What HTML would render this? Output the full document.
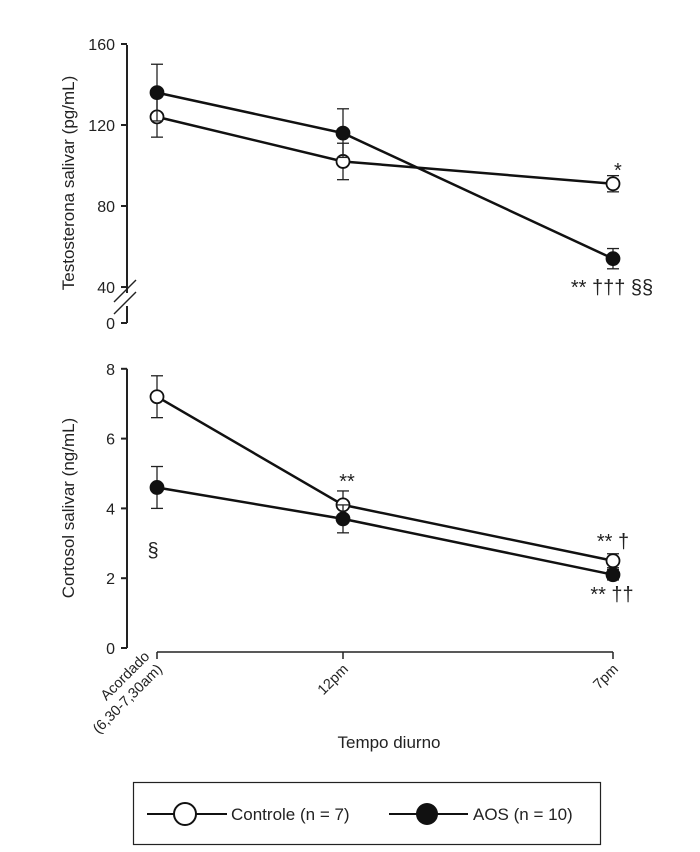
<!DOCTYPE html>
<html><head><meta charset="utf-8"><style>
html,body{margin:0;padding:0;background:#fff;}
svg{display:block;font-family:"Liberation Sans",Arial,sans-serif;}
</style></head><body>
<svg id="chart" width="700" height="852" viewBox="0 0 700 852"></svg>
<script>
const categories = ["Acordado|(6,30-7,30am)", "12pm", "7pm"];
const testoTicks = [40, 80, 120, 160];
const testoControle = [124, 102, 91];
const testoControleErr = [10, 9, 4];
const testoAOS = [136, 116, 54];
const testoAOSErr = [14, 12, 5];
const cortTicks = [0, 2, 4, 6, 8];
const cortControle = [7.2, 4.1, 2.5];
const cortControleErr = [0.6, 0.4, 0.2];
const cortAOS = [4.6, 3.7, 2.1];
const cortAOSErr = [0.6, 0.4, 0.15];

const NS = "http://www.w3.org/2000/svg";
const svg = document.getElementById("chart");
function el(tag, attrs, parent, text) {
  const e = document.createElementNS(NS, tag);
  for (const k in attrs) e.setAttribute(k, attrs[k]);
  if (text !== undefined) e.textContent = text;
  (parent || svg).appendChild(e);
  return e;
}
const xPos = [157, 343, 613];
const x = i => xPos[i];
const yT = v => 125 - (v - 120) * (80 / 39.5);
const yC = v => 648 - v * 34.9;

// top axis
const topAxis = el("g", {}, svg);


el("line", {x1:127,y1:45,x2:127,y2:293,stroke:"#222","stroke-width":2}, topAxis);
el("line", {x1:127,y1:306,x2:127,y2:323,stroke:"#222","stroke-width":2}, topAxis);
el("line", {x1:114,y1:302,x2:136,y2:280,stroke:"#222","stroke-width":1.4}, topAxis);
el("line", {x1:114,y1:314,x2:136,y2:292,stroke:"#222","stroke-width":1.4}, topAxis);
testoTicks.forEach(t => {
  el("line", {x1:121,y1:yT(t),x2:127,y2:yT(t),stroke:"#222","stroke-width":2}, topAxis);
  el("text", {x:115,y:yT(t)+6,"text-anchor":"end","font-size":16,fill:"#222"}, topAxis, t);
});
el("line", {x1:121,y1:323,x2:127,y2:323,stroke:"#222","stroke-width":2}, topAxis);
el("text", {x:115,y:329,"text-anchor":"end","font-size":16,fill:"#222"}, topAxis, "0");
const tl = el("text", {x:0,y:0,"text-anchor":"middle","font-size":17,fill:"#222",transform:"translate(74,183) rotate(-90)"}, svg, "Testosterona salivar (pg/mL)");



// bottom axis
const botAxis = el("g", {}, svg);


el("line", {x1:127,y1:yC(8),x2:127,y2:yC(0),stroke:"#222","stroke-width":2}, botAxis);
cortTicks.forEach(t => {
  el("line", {x1:121,y1:yC(t),x2:127,y2:yC(t),stroke:"#222","stroke-width":2}, botAxis);
  el("text", {x:115,y:yC(t)+6,"text-anchor":"end","font-size":16,fill:"#222"}, botAxis, t);
});
const cl = el("text", {x:0,y:0,"text-anchor":"middle","font-size":17,fill:"#222",transform:"translate(74,508) rotate(-90)"}, svg, "Cortosol salivar (ng/mL)");



// x axis
const xAxis = el("g", {}, svg);


el("line", {x1:x(0),y1:652,x2:x(2),y2:652,stroke:"#222","stroke-width":1.5}, xAxis);
categories.forEach((c, i) => {
  el("line", {x1:x(i),y1:652,x2:x(i),y2:659,stroke:"#222","stroke-width":1.5}, xAxis);
  const lines = c.split("|");
  const g = el("g", {transform:`translate(${x(i)+6},${670}) rotate(-45)`}, xAxis);
  lines.forEach((ln, j) => {
    el("text", {x:0,y:(j-(lines.length-1))*18,"text-anchor":"end","font-size":14.5,fill:"#222"}, g, ln);
  });
});
const xt = el("text", {x:389,y:748,"text-anchor":"middle","font-size":17,fill:"#222"}, svg, "Tempo diurno");



function series(vals, errs, ys, filled, name) {
  const g = el("g", {}, svg);
  
  
  el("polyline", {points: vals.map((v,i)=>`${x(i)},${ys(v)}`).join(" "), fill:"none", stroke:"#111","stroke-width":2.5}, g);
  vals.forEach((v,i) => {
    const y1 = ys(v+errs[i]), y2 = ys(v-errs[i]);
    el("line", {x1:x(i),y1:y1,x2:x(i),y2:y2,stroke:"#222","stroke-width":1.3}, g);
    el("line", {x1:x(i)-6,y1:y1,x2:x(i)+6,y2:y1,stroke:"#222","stroke-width":1.3}, g);
    el("line", {x1:x(i)-6,y1:y2,x2:x(i)+6,y2:y2,stroke:"#222","stroke-width":1.3}, g);
    const c = el("circle", {cx:x(i),cy:ys(v),r:6.5,fill:filled?"#111":"#fff",stroke:"#111","stroke-width":1.8}, g);
    
    
  });
}
series(testoControle, testoControleErr, yT, false, "testo-controle-series");
series(testoAOS, testoAOSErr, yT, true, "testo-aos-series");
series(cortControle, cortControleErr, yC, false, "cort-controle-series");
series(cortAOS, cortAOSErr, yC, true, "cort-aos-series");

// annotations
const ann = [[614,177,"*","start"],[612,294,"** ††† §§","middle"],[347,488,"**","middle"],[153,557,"§","middle"],[613,548,"** †","middle"],[612,601,"** ††","middle"]];
ann.forEach(a => {
  const t = el("text", {x:a[0],y:a[1],"text-anchor":a[3],"font-size":20,fill:"#222"}, svg, a[2]);
  
  
});

// legend
const lg = el("g", {}, svg);


el("rect", {x:133.5,y:782.5,width:467,height:62,fill:"#fff",stroke:"#222","stroke-width":1.2}, lg);
el("line", {x1:147,y1:814,x2:227,y2:814,stroke:"#111","stroke-width":2}, lg);
el("circle", {cx:185,cy:814,r:11,fill:"#fff",stroke:"#111","stroke-width":2}, lg);
el("text", {x:231,y:820,"font-size":17,fill:"#222"}, lg, "Controle (n = 7)");
el("line", {x1:389,y1:814,x2:468,y2:814,stroke:"#111","stroke-width":2}, lg);
el("circle", {cx:427,cy:814,r:11,fill:"#111"}, lg);
el("text", {x:473,y:820,"font-size":17,fill:"#222"}, lg, "AOS (n = 10)");
</script>
</body></html>
